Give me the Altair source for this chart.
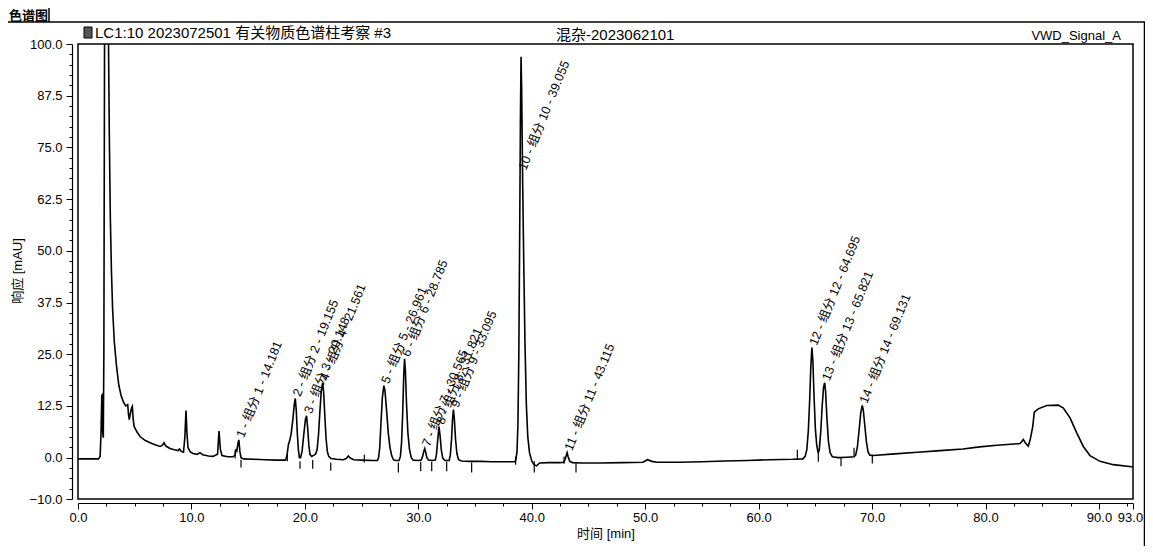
import json
import altair as alt
import pandas as pd

FONT = "Liberation Sans, Noto Sans CJK SC, sans-serif"

# ---------------- chromatogram trace (time [min], response [mAU]) ----------------
time_min = [
    0.0, 1.0, 1.8, 1.95, 2.03, 2.1, 2.14, 2.18, 2.23, 2.28, 2.34, 2.45, 2.6, 2.69,
    2.76, 2.85, 2.95, 3.05, 3.2, 3.4, 3.6, 3.8, 4.0, 4.2, 4.38, 4.45, 4.52, 4.6,
    4.72, 4.79, 4.86, 4.94, 5.2, 5.47, 5.9, 6.35, 6.8, 7.23, 7.4, 7.58, 7.75, 8.11,
    8.5, 8.82, 8.95, 9.1, 9.3, 9.42, 9.52, 9.6, 9.7, 9.9, 10.14, 10.5, 10.75, 11.0,
    11.5, 11.9, 12.3, 12.43, 12.55, 12.69, 13.2, 13.66, 13.85, 13.92, 14.0, 14.1,
    14.181, 14.27, 14.37, 14.6,
    15.5, 16.5, 17.5, 18.3, 18.42, 18.55, 18.65, 18.8, 18.95, 19.07, 19.155, 19.24,
    19.33, 19.43, 19.52, 19.62, 19.75, 19.9, 20.05, 20.148, 20.25, 20.35, 20.45,
    20.6, 20.8, 20.95, 21.08, 21.2, 21.32, 21.45, 21.561, 21.65, 21.76, 21.87,
    21.98, 22.1, 22.3, 22.8, 23.4, 23.65, 23.83, 24.0, 24.3, 25.0, 26.0, 26.4,
    26.5, 26.6, 26.71, 26.83, 26.961, 27.06, 27.2, 27.35, 27.5, 27.65, 27.8, 28.0,
    28.3, 28.42, 28.52, 28.62, 28.71, 28.785, 28.86, 28.96, 29.08, 29.22, 29.38,
    29.55, 30.0, 30.25, 30.38, 30.48, 30.565, 30.65, 30.75, 30.9, 31.2, 31.5,
    31.6, 31.7, 31.821, 31.92, 32.03, 32.15, 32.35, 32.72, 32.82, 32.93, 33.02,
    33.095, 33.18, 33.28, 33.4, 33.55, 33.8, 34.5, 35.5, 36.5, 37.5, 38.5,
    38.6, 38.7, 38.78, 38.86, 38.93, 39.0, 39.055, 39.11, 39.2, 39.3, 39.4, 39.52,
    39.65, 39.8, 40.0, 40.2, 40.42, 40.7, 41.5, 42.5, 42.8, 42.95, 43.05, 43.115,
    43.2, 43.35, 43.6, 44.5, 46.0, 48.0, 49.8, 50.2, 50.6, 51.0, 53.0, 55.0, 57.0,
    59.0, 61.0, 63.0, 63.9, 64.1, 64.25, 64.38, 64.5, 64.6, 64.695, 64.78, 64.88,
    65.0, 65.12, 65.25, 65.35, 65.48, 65.6, 65.72, 65.821, 65.9, 66.02, 66.15,
    66.3, 66.5, 67.0, 67.8, 68.4, 68.55, 68.7, 68.85, 69.0, 69.131, 69.22, 69.35,
    69.5, 69.65, 69.8, 70.1, 72.0, 74.0, 76.0, 78.0, 79.5, 81.0, 82.5, 83.04, 83.2,
    83.33, 83.5, 83.77, 83.95, 84.16, 84.3, 84.65, 85.39, 86.42, 86.86, 87.45,
    88.04, 88.62, 89.21, 90.09, 91.26, 92.88, 93.0,
]
response_mau = [
    -0.3, -0.3, -0.3, 0.3, 6.0, 15.0, 15.2, 6.0, 4.8, 25.0, 100.0, 150.0, 150.0, 100.0,
    78.0, 58.0, 45.0, 36.0, 28.0, 22.0, 17.5, 15.0, 13.5, 12.5, 12.8, 10.5, 9.2, 10.5,
    12.0, 12.4, 9.5, 7.6, 6.2, 5.1, 4.2, 3.6, 3.1, 2.7, 2.9, 3.6, 2.8, 2.2,
    1.9, 1.7, 2.1, 1.5, 1.3, 5.0, 11.4, 6.0, 2.4, 1.4, 1.0, 0.8, 1.2, 0.7,
    0.4, 0.3, 0.8, 6.4, 2.0, 0.5, 0.2, 0.2, 0.6, 1.8, 1.6, 3.5,
    4.3, 1.5, 0.0, -0.3,
    -0.4, -0.5, -0.6, -0.6, 0.5, 3.2, 4.0, 6.0, 9.5, 13.0, 14.3, 11.5,
    6.0, 1.8, 0.0, 0.0, 1.5, 5.5, 9.3, 10.1, 7.0, 3.0, 0.8,
    0.3, 0.6, 0.9, 2.0, 5.5, 11.0, 16.3, 18.1, 16.0, 10.0, 4.5,
    1.5, 0.3, -0.2, -0.4, -0.5, -0.2, 0.4, -0.1, -0.5, -0.6, -0.7, -0.7,
    0.0, 2.5, 8.5, 14.5, 17.4, 16.2, 11.5, 6.0, 2.5, 0.5, -0.5, -0.7,
    -0.7, 0.3, 3.5, 10.5, 19.5, 23.9, 21.0, 13.0, 6.0, 2.0, 0.0,
    -0.6, -0.7, -0.6, 0.3, 1.5, 2.2, 1.3, 0.0, -0.6, -0.7, -0.6,
    0.8, 4.0, 7.5, 5.2, 1.8, -0.1, -0.7, -0.7, 0.6, 4.5, 9.5,
    11.6, 9.2, 4.5, 1.0, -0.5, -0.8, -0.9, -0.9, -1.0, -1.0, -1.0,
    -0.5, 1.5, 8.0, 25.0, 52.0, 82.0, 96.9, 89.0, 66.0, 46.0, 28.0, 13.0,
    5.0, 1.2, -0.8, -1.7, -2.0, -1.3, -1.2, -1.2, -1.1, -0.4, 0.6, 1.2,
    0.3, -0.9, -1.2, -1.3, -1.3, -1.2, -1.1, -0.5, -0.9, -1.1, -1.1, -1.0, -0.8,
    -0.7, -0.5, -0.4, -0.3, 0.3, 2.0, 6.5, 14.0, 22.0, 26.6, 23.5, 15.0,
    7.0, 3.0, 1.1, 2.0, 6.5, 12.5, 17.0, 18.1, 16.0, 9.5, 4.0,
    1.2, 0.2, 0.0, 0.1, 0.2, 0.6, 2.5, 6.5, 10.8, 12.6, 11.6, 8.0,
    3.8, 1.3, 0.6, 0.5, 0.9, 1.3, 1.7, 2.1, 2.6, 3.0, 3.3, 3.4, 3.9,
    4.4, 3.6, 2.8, 4.5, 7.5, 11.0, 11.8, 12.6, 12.7, 12.0, 9.6,
    6.0, 2.7, 0.5, -0.9, -1.7, -2.2, -2.2,
]

# ---------------- peak annotations ----------------
peak_no = [1, 2, 3, 4, 5, 6, 7, 8, 9, 10, 11, 12, 13, 14]
peak_rt = ["14.181", "19.155", "20.148", "21.561", "26.961", "28.785", "30.565",
           "31.821", "33.095", "39.055", "43.115", "64.695", "65.821", "69.131"]
label_at = [4.3, 14.3, 10.1, 18.1, 17.4, 23.9, 2.2, 7.5, 11.6, 69.0, 1.2, 26.6, 18.1, 12.6]

# integration markers (time, low, high)
mark_rt = [13.85, 14.37, 18.45, 19.57, 20.69, 22.28, 25.24, 28.24, 30.21, 31.18,
           32.5, 34.7, 38.58, 40.22, 42.85, 43.9, 63.41, 65.26, 67.26, 68.41, 70.02]
mark_lo = [-0.2, -2.4, -0.9, -2.7, -2.7, -3.2, -1.2, -3.6, -3.3, -3.3,
           -3.3, -3.6, -1.7, -3.6, -1.5, -3.6, -0.5, -1.0, -2.1, 0.3, -1.4]
mark_hi = [1.8, -0.5, 0.7, -0.9, -0.6, -1.2, 0.7, -1.2, -1.0, -1.0,
           -1.0, -1.2, 0.3, -0.9, 0.3, -1.1, 1.9, 1.1, 0.0, 2.4, 0.7]

# ---------------- axis ticks ----------------
x_major = [0, 10, 20, 30, 40, 50, 60, 70, 80, 90, 93]
x_minor = [2.5, 5, 7.5, 12.5, 15, 17.5, 22.5, 25, 27.5, 32.5, 35, 37.5, 42.5, 45,
           47.5, 52.5, 55, 57.5, 62.5, 65, 67.5, 72.5, 75, 77.5, 82.5, 85, 87.5, 92.5]
y_major = [-10, 0, 12.5, 25, 37.5, 50, 62.5, 75, 87.5, 100]
y_minor = [-7.5, -5, -2.5, 2.5, 5, 7.5, 10, 15, 17.5, 20, 22.5, 27.5, 30, 32.5, 35,
           40, 42.5, 45, 47.5, 52.5, 55, 57.5, 60, 65, 67.5, 70, 72.5, 77.5, 80,
           82.5, 85, 90, 92.5, 95, 97.5]

curve = pd.DataFrame({"t": time_min, "v": response_mau})
peaks = pd.DataFrame({
    "t": [float(r) for r in peak_rt],
    "v": label_at,
    "label": [f"{n} - 组分 {n} - {r}" for n, r in zip(peak_no, peak_rt)],
})
marks = pd.DataFrame({"t": mark_rt, "v": mark_lo, "hi": mark_hi})

xs = alt.Scale(domain=[0, 93], nice=False, zero=False)
ys = alt.Scale(domain=[-10, 100], nice=False, zero=False)


def is_major(vals):
    return f"indexof({json.dumps(vals)}, datum.value) >= 0"


x_axis = alt.Axis(
    values=sorted(x_major + x_minor), orient="bottom", offset=4, grid=False, title=None,
    labelExpr=f"{is_major(x_major)} ? format(datum.value, '.1f') : ''",
    tickSize={"condition": {"test": is_major(x_major), "value": 6}, "value": 3},
    labelOffset={"condition": {"test": "datum.value == 93", "value": -3}, "value": 0},
    labelOverlap=False, labelFlush=False, labelPadding=2,
)
y_axis = alt.Axis(
    values=sorted(y_major + y_minor), orient="left", offset=6, grid=False, title=None,
    labelExpr=f"{is_major(y_major)} ? format(datum.value, '.1f') : ''",
    tickSize={"condition": {"test": is_major(y_major), "value": 6}, "value": 3},
    labelOverlap=False, labelFlush=False, labelPadding=4,
)

X = alt.X("t:Q", scale=xs, axis=x_axis)
Y = alt.Y("v:Q", scale=ys, axis=y_axis)

line = alt.Chart(curve).mark_line(color="black", strokeWidth=1.6, clip=True).encode(x=X, y=Y)

rules = alt.Chart(marks).mark_rule(color="black", strokeWidth=1.2).encode(
    x=X, y=Y, y2="hi:Q",
)

labels = alt.Chart(peaks).mark_text(
    angle=292, align="left", baseline="middle", dx=3, fontSize=12.5, font=FONT, color="black"
).encode(x=X, y=Y, text="label:N")


def note(txt, x, y, size=14, align="left", baseline="middle", angle=0, weight="normal"):
    return alt.Chart(pd.DataFrame({"s": [txt]})).mark_text(
        align=align, baseline=baseline, fontSize=size, font=FONT, color="black",
        angle=angle, fontWeight=weight,
    ).encode(x=alt.value(x), y=alt.value(y), text="s:N")


def deco_rule(x, x2, y, y2, w=1.5):
    return alt.Chart(pd.DataFrame({"d": [0]})).mark_rule(color="black", strokeWidth=w).encode(
        x=alt.value(x), x2=alt.value(x2), y=alt.value(y), y2=alt.value(y2)
    )


icon = alt.Chart(pd.DataFrame({"d": [0]})).mark_rect(
    fill="#555", stroke="black", strokeWidth=1
).encode(x=alt.value(6), x2=alt.value(14), y=alt.value(-17), y2=alt.value(-6))

layers = [
    line, rules, labels,
    note("色谱图", -69, -28, size=13, weight="bold"),
    deco_rule(-70, 1067, -22, -22),
    deco_rule(-29, -29, -36, -22),
    deco_rule(1066.5, 1066.5, -22, 510),
    icon,
    note("LC1:10 2023072501 有关物质色谱柱考察 #3", 17, -11, size=15),
    note("混杂-2023062101", 478, -9, size=15),
    note("VWD_Signal_A", 1043, -1, size=13, align="right", baseline="bottom"),
    note("响应 [mAU]", -60, 227, size=13, align="center", angle=270),
    note("时间 [min]", 528, 490, size=13, align="center"),
]

chart = alt.layer(*layers).properties(
    width=1055, height=455,
    autosize=alt.AutoSizeParams(type="none"),
    padding={"left": 70, "top": 36, "right": 12, "bottom": 47},
    background="white",
).configure_view(
    stroke="black", strokeWidth=1.5
).configure_axis(
    domainColor="black", domainWidth=1.2, tickColor="black", tickWidth=1,
    labelColor="black", labelFont=FONT, labelFontSize=13,
)

chart.save("out.html", embed_options={"renderer": "svg", "actions": False})
